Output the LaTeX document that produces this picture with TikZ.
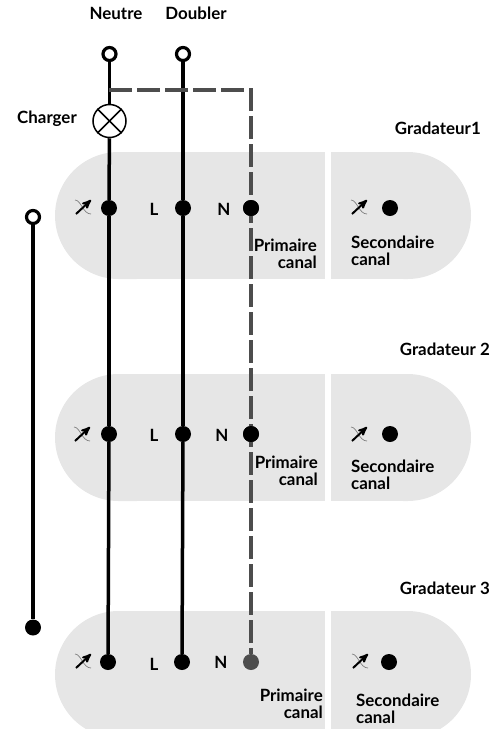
\documentclass[tikz,border=0pt]{standalone}
\usepackage{fontspec}
\setmainfont{Lato}
\usetikzlibrary{arrows,positioning}
\definecolor{panelgray}{HTML}{E6E6E6}
\definecolor{wiregray}{HTML}{4D4D4D}
\tikzset{
  panel/.style={fill=panelgray},
  wire/.style={line width=3.5pt,black},
  neutral/.style={line width=3.5pt,wiregray,dash pattern=on 23pt off 5pt},
  dot/.style={circle,fill=black,inner sep=0pt,minimum size=16pt},
  terminal/.style={circle,draw=black,fill=white,line width=3.2pt,inner sep=0pt,minimum size=13pt},
  lbl/.style={font=\bfseries\fontsize{16.9}{17.5}\selectfont,inner sep=0pt},
  pics/dimmer/.style={code={
    \draw[gray,line width=.7pt] (-8,-7) .. controls (-2,-7) and (0,7) .. (8,7);
    \draw[->,>=stealth',line width=2pt,black] (-7,7) -- (8,-7);
  }}
}
\begin{document}
\begin{tikzpicture}[x=1pt,y=-1pt]
  \clip (0,0) rectangle (502,729);
  \foreach \y/\b in {152/279,374/501,611/738} {
    \fill[panel,rounded corners=63.5pt] (55,\y) rectangle (200,\b);
    \fill[panel] (120,\y) rectangle (325,\b);
    \fill[panel,rounded corners=63.5pt] (340,\y) rectangle (471,\b);
    \fill[panel] (331,\y) rectangle (400,\b);
  }
  % top of the circuit
  \node[terminal] (neutre) at (109.5,54) {};
  \node[terminal] (doubler) at (183,54) {};
  \node[terminal] (source) at (33,217) {};
  \node[dot] (sourceend) at (33,627.5) {};
  \node[circle,draw=black,fill=white,line width=1.5pt,minimum size=33pt,inner sep=0pt] (lamp) at (109.5,121) {};
  \coordinate (junction) at (109,90);
  \coordinate (corner) at (251,90);
  % dimmer 1
  \node[dot] (a1) at (109,208) {};
  \node[dot] (a2) at (183,208) {};
  \node[dot] (a3) at (251,208) {};
  \node[dot] (a4) at (390,208) {};
  % dimmer 2
  \node[dot] (b1) at (109,434) {};
  \node[dot] (b2) at (183,434) {};
  \node[dot] (b3) at (251,434) {};
  \node[dot] (b4) at (390,434) {};
  % dimmer 3
  \node[dot] (c1) at (108,662) {};
  \node[dot] (c2) at (182,662) {};
  \node[dot,fill=wiregray] (c3) at (251,662) {};
  \node[dot] (c4) at (389,662) {};

  \draw[wire] (neutre) -- (lamp);
  \draw[wire] (lamp) -- (a1);
  \draw[wire] (a1) -- (b1);
  \draw[wire] (b1) -- (c1);
  \draw[wire] (doubler) -- (a2);
  \draw[wire] (a2) -- (b2);
  \draw[wire] (b2) -- (c2);
  \draw[wire] (source) -- (sourceend);
  \draw[neutral] (junction) -- (corner) -- (c3);
  \node[dot] at (a3) {};
  \node[dot] at (b3) {};

  \draw[black,line width=1.5pt] (lamp.north west) -- (lamp.south east);
  \draw[black,line width=1.5pt] (lamp.north east) -- (lamp.south west);

  \pic at (83,207) {dimmer};
  \pic at (359,207) {dimmer};
  \pic at (82,434) {dimmer};
  \pic at (359,434) {dimmer};
  \pic at (83,661) {dimmer};
  \pic at (360,661) {dimmer};

  \node[lbl,anchor=base] (neutrelbl) at (116,19) {Neutre};
  \node[lbl,anchor=base] (doublerlbl) at (196,19) {Doubler};
  \node[lbl] (chargerlbl) at (47,119) {Charger};
  \node[lbl,anchor=east] (grad1) at (481,128) {Gradateur1};
  \node[lbl,anchor=east] (grad2) at (490,349) {Gradateur 2};
  \node[lbl,anchor=east] (grad3) at (490,588) {Gradateur 3};

  \node[lbl] (l1) at (154,209) {L};
  \node[lbl] (n1) at (224,209) {N};
  \node[lbl] (l2) at (154,435) {L};
  \node[lbl] (n2) at (222,435) {N};
  \node[lbl] (l3) at (154,664) {L};
  \node[lbl] (n3) at (221,662) {N};

  \node[lbl,align=right,anchor=east] (prim1) at (317,254) {Primaire\\canal};
  \node[lbl,align=right,anchor=east] (prim2) at (318,471) {Primaire\\canal};
  \node[lbl,align=right,anchor=east] (prim3) at (323,704) {Primaire\\canal};
  \node[lbl,align=left,anchor=west] (sec1) at (351,251) {Secondaire\\canal};
  \node[lbl,align=left,anchor=west] (sec2) at (351,475) {Secondaire\\canal};
  \node[lbl,align=left,anchor=west] (sec3) at (356,709) {Secondaire\\canal};
\end{tikzpicture}
\end{document}
